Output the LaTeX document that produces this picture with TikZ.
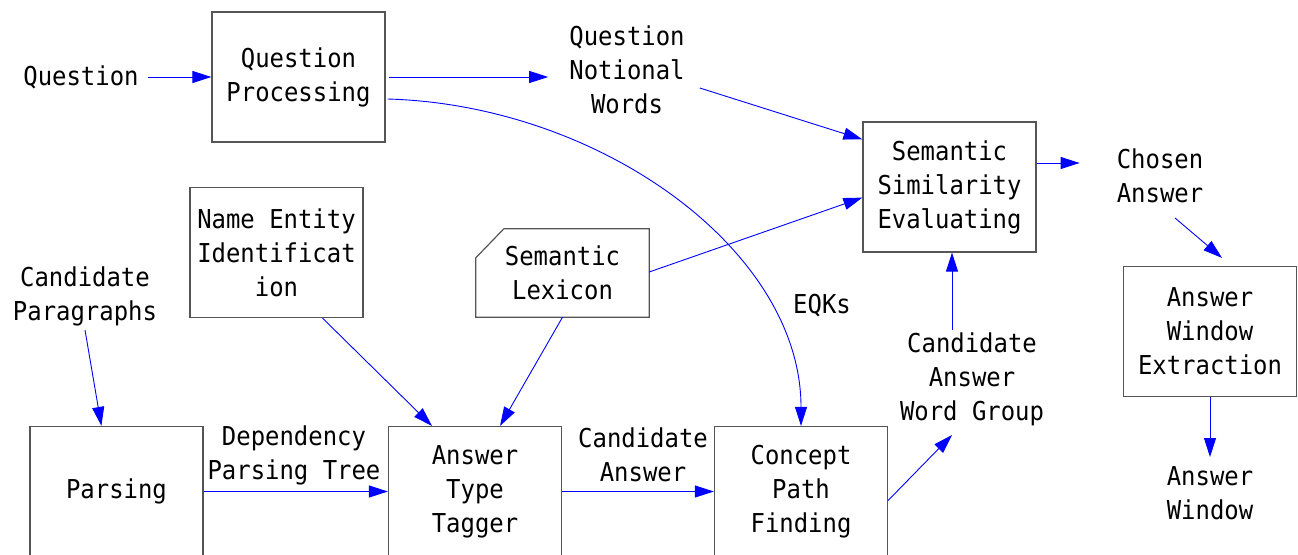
\documentclass[tikz,border=0pt]{standalone}
\usepackage{fontspec}
\setmainfont{DejaVu Sans Mono}[FakeStretch=0.92]
\usetikzlibrary{arrows.meta,calc}

\definecolor{edgegray}{HTML}{555555}
\definecolor{flowblue}{HTML}{0000FF}

\tikzset{
  every node/.style={font=\fontsize{26}{34}\selectfont, align=center},
  procbox/.style={draw=edgegray, line width=1.2pt, minimum width=173pt,
                  minimum height=130pt, inner sep=0pt},
  lbl/.style={inner sep=0pt},
  arr/.style={flowblue, line width=0.9pt, -{Triangle[length=19pt,width=12pt]}},
}

\begin{document}
\begin{tikzpicture}[x=1pt,y=-1pt]
  \useasboundingbox (0,0) rectangle (1298,554);

  % processing boxes
  \node[procbox] (qp)  at (298.5,77)   {Question\\Processing};
  \node[procbox] (nei) at (276.5,252.5) {Name Entity\\Identificat\\ion};
  \node[procbox] (sse) at (949.5,187)  {Semantic\\Similarity\\Evaluating};
  \node[procbox] (awe) at (1210,331.5) {Answer\\Window\\Extraction};
  \node[procbox] (par) at (116.5,491.5) {Parsing};
  \node[procbox] (att) at (475,491.5)  {Answer\\Type\\Tagger};
  \node[procbox] (cpf) at (801,491.5)  {Concept\\Path\\Finding};

  % lexicon: box with a cut top-left corner
  \node[minimum width=173pt, minimum height=88pt, inner sep=0pt] (sl) at (562.5,273) {Semantic\\Lexicon};
  \draw[edgegray, line width=1.2pt]
    ($(sl.north west)+(0,29)$) -- ($(sl.north west)+(28,0)$) -- (sl.north east)
    -- (sl.south east) -- (sl.south west) -- cycle;

  % data labels
  \node[lbl] (q)    at (81,77)    {Question};
  \node[lbl] (qnw)  at (627,70)   {Question\\Notional\\Words};
  \node[lbl] (ca)   at (1160,176) {Chosen\\Answer};
  \node[lbl] (aw)   at (1210,493) {Answer\\Window};
  \node[lbl] (cp)   at (85,296)   {Candidate\\Paragraphs};
  \node[lbl] (eqk)  at (822,306)  {EQKs};
  \node[lbl] (cawg) at (972,379)  {Candidate\\Answer\\Word Group};
  \node[lbl] (dpt)  at (294,455)  {Dependency\\Parsing Tree};
  \node[lbl] (can)  at (643,455)  {Candidate\\Answer};

  % flows
  \draw[arr] ($(q.east)+(9,0)$) -- (qp.west);
  \draw[arr] ($(qp.east)+(3,0)$) -- ($(qnw.west |- qp.east)+(-21,0)$);
  \draw[arr] ($(qp.east)+(2,22)$) .. controls (600,105) and (801,250) .. (cpf.north);
  \draw[arr] ($(qnw.east)+(15,18)$) -- ($(sse.north west)+(0,18)$);
  \draw[arr] ($(sse.east)+(0,-24)$) -- ($(ca.west)+(-37,-13)$);
  \draw[arr] ($(ca.center)+(15,42)$) -- ($(awe.north)+(12,-8)$);
  \draw[arr] ($(sl.east)+(0,-1)$) -- ($(sse.south west)+(0,-55)$);
  \draw[arr] ($(cawg.center)+(-20,-49)$) -- ($(sse.south)+(2.5,0)$);
  \draw[arr] ($(cp.center)+(0,34)$) -- ($(par.north west)+(72,0)$);
  \draw[arr] ($(nei.south)+(46,0)$) -- ($(att.north)+(-43,0)$);
  \draw[arr] (sl.south) -- ($(att.north)+(25,0)$);
  \draw[arr] (par.east) -- (att.west);
  \draw[arr] (att.east) -- (cpf.west);
  \draw[arr] ($(cpf.east)+(0,9)$) -- ($(cawg.center)+(-20,56)$);
  \draw[arr] (awe.south) -- ($(aw.center)+(0,-36)$);
\end{tikzpicture}
\end{document}
